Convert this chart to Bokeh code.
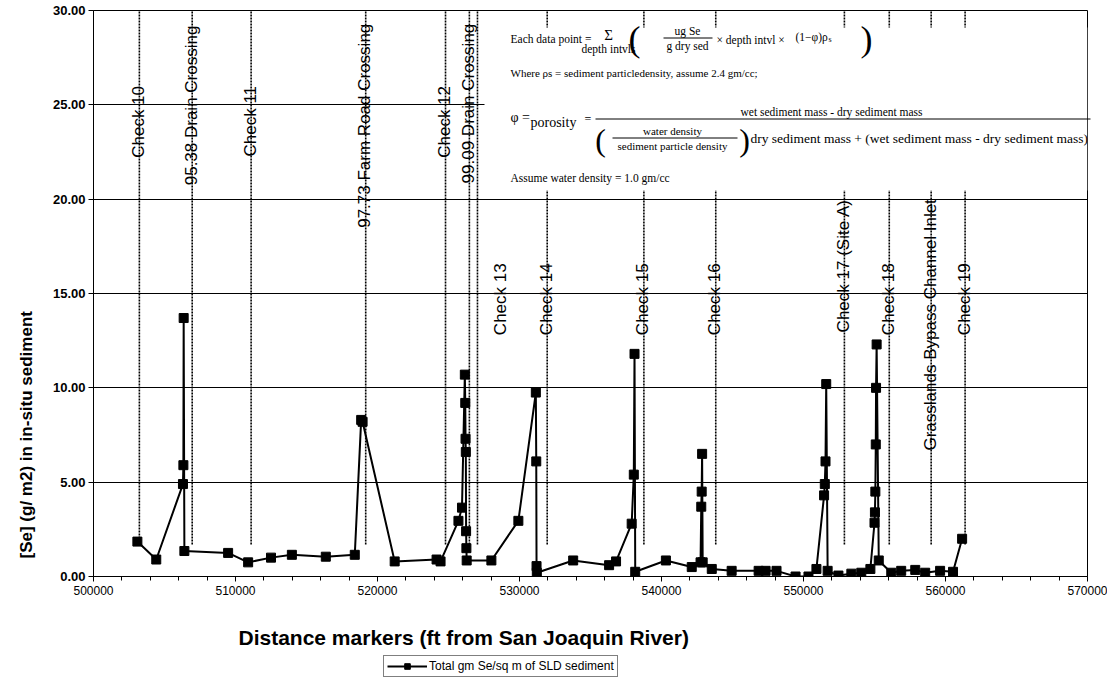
import numpy as np
from bokeh.plotting import figure
from bokeh.layouts import column
from bokeh.models import (Label, BoxAnnotation, Legend, LegendItem, SingleIntervalTicker,
                          NumeralTickFormatter, Range1d, ColumnDataSource, Title)
from bokeh.core.properties import value
from bokeh.embed import file_html
from bokeh.resources import INLINE

# ---------------- data ----------------
distance_ft = [503090, 504420, 506300, 506330, 506350, 506400, 509480, 510890, 512500, 513970,
               516360, 518400, 518850, 518950, 521210, 524160, 524440, 525700, 525950, 526150,
               526180, 526200, 526220, 526240, 526260, 526280, 528020, 529920, 531150, 531180,
               531200, 531220, 533780, 536310, 536800, 537900, 538050, 538100, 538150, 540310,
               542130, 542750, 542800, 542830, 542860, 542900, 543540, 544940, 546840, 547330,
               548100, 549440, 550350, 550910, 551450, 551500, 551550, 551600, 551700, 552460,
               553370, 554070, 554710, 555000, 555030, 555060, 555090, 555110, 555150, 555300,
               556180, 556880, 557870, 558570, 559620, 560530, 561170]
se_gm_m2 = [1.85, 0.9, 4.9, 5.9, 13.7, 1.35, 1.25, 0.75, 1.0, 1.15,
            1.05, 1.15, 8.3, 8.2, 0.8, 0.9, 0.8, 2.95, 3.65, 10.7,
            9.2, 7.3, 6.6, 2.4, 1.5, 0.85, 0.85, 2.95, 9.75, 6.1,
            0.55, 0.2, 0.85, 0.6, 0.8, 2.8, 5.4, 11.8, 0.25, 0.85,
            0.5, 0.75, 3.7, 4.5, 6.5, 0.75, 0.4, 0.3, 0.3, 0.3,
            0.3, 0.0, 0.0, 0.4, 4.3, 4.9, 6.1, 10.2, 0.3, 0.05,
            0.15, 0.2, 0.4, 2.85, 3.4, 4.5, 7.0, 10.0, 12.3, 0.85,
            0.2, 0.3, 0.35, 0.2, 0.3, 0.25, 2.0]

marker_ft = [503230, 506950, 511100, 519170, 524790, 526470, 527040, 531950, 538760, 543820,
             552880, 556040, 558990, 561380]
marker_names = ["Check 10", "95.38 Drain Crossing", "Check 11", "97.73 Farm Road Crossing",
                "Check 12", "99.09 Drain Crossing", "Check 13", "Check 14", "Check 15",
                "Check 16", "Check 17 (Site A)", "Check 18", "Grasslands Bypass Channel Inlet",
                "Check 19"]
marker_label_top = [26.0, 29.2, 26.0, 29.3, 26.0, 29.3, 16.6, 16.6, 16.6, 16.6, 20.0, 16.6, 20.0, 16.6]
marker_label_dx = [-1, -1, -1, -1, -1, -1, 23, -1, -1, -1, -1, -1, -1, -1]

series_name = "Total gm Se/sq m of SLD sediment"
x_title = "Distance markers (ft from San Joaquin River)"
y_title = "[Se] (g/ m2)  in in-situ sediment"

SANS = "Liberation Sans"
SERIF = "Liberation Serif"

# --------------- main figure ----------------
p = figure(width=1107, height=606, x_range=Range1d(500000, 570000), y_range=Range1d(0, 30),
           output_backend="svg", toolbar_location=None,
           min_border_left=93, min_border_right=20, min_border_top=10, min_border_bottom=30)
p.background_fill_color = "white"
p.border_fill_color = "white"
p.outline_line_color = "black"
p.outline_line_width = 1
p.outline_line_alpha = 1

xa = p.xaxis[0]
xa.ticker = SingleIntervalTicker(interval=10000, num_minor_ticks=5)
xa.formatter = NumeralTickFormatter(format="0")
xa.major_label_text_font = SANS
xa.major_label_text_font_size = "12px"
xa.major_label_text_color = "black"
xa.major_label_standoff = 4
xa.major_tick_in = 0
xa.major_tick_out = 5
xa.minor_tick_in = 0
xa.minor_tick_out = 4
xa.axis_line_color = "black"
xa.major_tick_line_color = "black"
xa.minor_tick_line_color = "black"

ya = p.yaxis[0]
ya.ticker = SingleIntervalTicker(interval=5, num_minor_ticks=0)
ya.formatter = NumeralTickFormatter(format="0.00")
ya.major_label_text_font = SANS
ya.major_label_text_font_size = "13px"
ya.major_label_text_font_style = "bold"
ya.major_label_text_color = "black"
ya.major_label_standoff = 3
ya.major_tick_in = 0
ya.major_tick_out = 5
ya.axis_line_color = "black"
ya.major_tick_line_color = "black"

p.add_layout(Title(text=y_title, align="left", offset=18, standoff=27,
                   text_font=SANS, text_font_style="bold", text_font_size="17px",
                   text_color="black"), "left")

p.xgrid.visible = False
p.ygrid.grid_line_color = "black"
p.ygrid.grid_line_width = 1
p.ygrid.grid_line_alpha = 1

# marker (check) lines
n = len(marker_ft)
p.segment(x0=marker_ft, y0=[1.7] * n, x1=marker_ft, y1=[30] * n,
          line_color="black", line_width=1.6, line_dash="2 1")
p.text(x=marker_ft, y=marker_label_top, text=marker_names, angle=np.pi / 2,
       x_offset=marker_label_dx, text_align="right", text_baseline="alphabetic",
       text_font=value(SANS), text_font_size="17px", text_color="black")

# data series
src = ColumnDataSource(dict(x=distance_ft, y=se_gm_m2))
line_r = p.line("x", "y", source=src, line_color="black", line_width=2)
sc_r = p.scatter("x", "y", source=src, marker="square", size=9,
                 fill_color="black", line_color="black")

# ---------- formula text box (positions measured in reference pixels) ----------
def rx(px):
    return 500000 + (px - 93) / 0.0142

def ry(py):
    return (576 - py) / (566 / 30)

p.add_layout(BoxAnnotation(left=rx(484), right=570000, top=ry(27), bottom=ry(190),
                           fill_color="white", fill_alpha=1, line_alpha=0))

formula = [
    ("Each data point =", 510, 38, 11.5, "left"),
    ("\u03a3", 608, 34, 15, "center"),
    ("depth intvls", 608, 48, 11.5, "center"),
    ("(", 634, 38, 36, "center"),
    ("ug Se", 687, 30, 11.5, "center"),
    ("g dry sed", 687, 45, 11.5, "center"),
    ("\u00d7 depth intvl \u00d7", 716, 39, 11.5, "left"),
    ("(1\u2212\u03c6)\u03c1", 795, 36, 11.5, "left"),
    ("s", 828, 39, 8, "left"),
    (")", 866, 38, 36, "center"),
    ("Where \u03c1s = sediment particledensity, assume 2.4 gm/cc;", 510, 72, 11, "left"),
    ("\u03c6 =", 510, 117, 14, "left"),
    ("porosity", 530, 122, 14, "left"),
    ("=", 584, 118, 12, "left"),
    ("wet sediment mass - dry sediment mass", 740, 111, 11.5, "left"),
    ("(", 600, 139, 32, "center"),
    ("water density", 672, 130, 11, "center"),
    ("sediment particle density", 672, 145, 11, "center"),
    (")", 744, 139, 32, "center"),
    ("dry sediment mass + (wet sediment mass - dry sediment mass)", 750, 138, 13.5, "left"),
    ("Assume water density = 1.0 gm/cc", 510, 177, 11.5, "left"),
]
for txt, px, py, fs, al in formula:
    p.add_layout(Label(x=rx(px), y=ry(py), text=txt, text_align=al, text_baseline="middle",
                       text_font=SERIF, text_font_size=f"{fs}px", text_color="black"))

bars = [(663, 712, 37.5), (595, 1090, 118.5), (612, 737, 137.5)]
p.segment(x0=[rx(b[0]) for b in bars], x1=[rx(b[1]) for b in bars],
          y0=[ry(b[2]) for b in bars], y1=[ry(b[2]) for b in bars],
          line_color="black", line_width=1, level="overlay")

# --------------- strip below the chart: x-axis title and legend ----------------
LG_H = 71
lg = figure(width=1107, height=LG_H, x_range=Range1d(93, 1087), y_range=Range1d(0, LG_H),
            output_backend="svg", toolbar_location=None, x_axis_type=None, y_axis_type=None,
            min_border=0)
lg.outline_line_color = None
lg.background_fill_color = "white"
lg.border_fill_color = "white"
lg.xgrid.visible = False
lg.ygrid.visible = False

lg.add_layout(Label(x=238, y=LG_H - 31, text=x_title, text_align="left", text_baseline="middle",
                    text_font=SANS, text_font_style="bold", text_font_size="21px",
                    text_color="black"))

lg_line = lg.line(x=[-50, -40], y=[-50, -40], line_color="black", line_width=2)
lg_sq = lg.scatter(x=[-50], y=[-50], marker="square", size=9, fill_color="black", line_color="black")

legend = Legend(items=[LegendItem(label=series_name, renderers=[lg_line, lg_sq])],
                location=(290, 0), orientation="horizontal")
legend.label_text_font = SANS
legend.label_text_font_size = "12px"
legend.label_text_color = "black"
legend.glyph_width = 40
legend.glyph_height = 14
legend.label_standoff = 2
legend.padding = 3
legend.spacing = 0
legend.margin = 0
legend.border_line_color = "black"
legend.border_line_width = 1.5
legend.background_fill_color = "white"
legend.background_fill_alpha = 1
lg.add_layout(legend, "center")

layout = column(p, lg, spacing=0)
open("out.html", "w").write(file_html(layout, INLINE))
